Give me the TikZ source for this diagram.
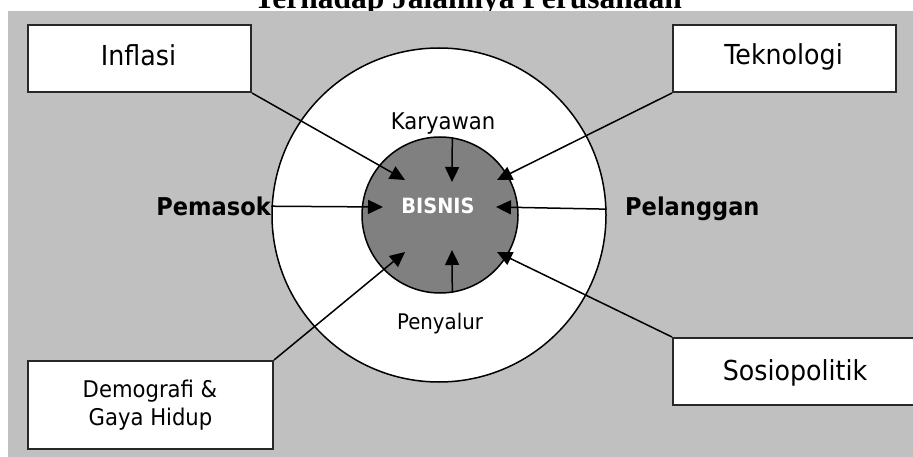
\documentclass[tikz,border=0pt]{standalone}
\usepackage{fontspec}
\setmainfont{DejaVu Sans}[FakeStretch=0.92]
\newfontfamily\titlefont{Liberation Serif}
\usetikzlibrary{arrows.meta}
\definecolor{bggray}{RGB}{192,192,192}
\definecolor{coregray}{RGB}{128,128,128}
\definecolor{edgegray}{RGB}{40,40,40}
\begin{document}
\begin{tikzpicture}[x=1pt,y=-1pt,
  box/.style={draw=edgegray, line width=2pt, fill=white, rectangle, inner sep=0pt},
  ring/.style={circle, draw=black, line width=1.5pt, inner sep=0pt},
  conn/.style={draw=black, line width=1.5pt, -{Triangle[length=15pt,width=14pt]}},
  lbl/.style={inner sep=0pt, anchor=base},
  boxtxt/.style={lbl, font=\fontsize{27.5}{33}\selectfont},
  midtxt/.style={lbl, font=\fontsize{23}{27}\selectfont},
  sidetxt/.style={inner sep=0pt, font=\bfseries\fontsize{24.5}{29}\selectfont}]
\useasboundingbox (0,0) rectangle (913,457);
\node[lbl, font=\titlefont\bfseries\fontsize{31.5}{36}\selectfont] (title) at (468,8.5) {Terhadap Jalannya Perusahaan};
\fill[bggray] (8,11) rectangle (920,460);
% circles
\node[ring, fill=white, minimum size=334pt] (outer) at (439,215) {};
\node[ring, fill=coregray, minimum size=156pt] (inner) at (440,215) {};
% boxes
\node[box, minimum width=223pt, minimum height=67pt] (infl) at (139.5,58.5) {};
\node[box, minimum width=223pt, minimum height=67pt] (tekno) at (784.5,58.5) {};
\node[box, minimum width=245pt, minimum height=88pt] (demo) at (150.5,405) {};
\node[box, minimum width=244pt, minimum height=67pt] (sosio) at (795,371.5) {};
% box texts
\node[boxtxt] (inflT) at (138.5,66) {Inflasi};
\node[boxtxt] (teknoT) at (783.5,65) {Teknologi};
\node[boxtxt] (sosioT) at (795,380) {Sosiopolitik};
\node[midtxt] (demoT1) at (150,397) {Demografi \&};
\node[midtxt] (demoT2) at (150.5,425) {Gaya Hidup};
% inner labels
\node[midtxt] (kary) at (443,130) {Karyawan};
\node[lbl, font=\fontsize{21.5}{26}\selectfont] (peny) at (440,329) {Penyalur};
\node[lbl, text=white, font=\bfseries\fontsize{21}{25}\selectfont] (bisnis) at (438,214) {BISNIS};
\node[sidetxt, anchor=base east] (pemasok) at (271,215) {Pemasok};
\node[sidetxt, anchor=base west] (pelanggan) at (625,215) {Pelanggan};
% arrow tips
\coordinate (tipInfl) at (405,180);
\coordinate (tipTekno) at (497,180);
\coordinate (tipDemo) at (405,252);
\coordinate (tipSosio) at (497,252);
\coordinate (tipPem) at (383,207);
\coordinate (tipPel) at (496,207);
\coordinate (tipKary) at (452,182);
\coordinate (tipPeny) at (452,250);
% connectors
\draw[conn] (infl.south east) -- (tipInfl);
\draw[conn] (tekno.south west) -- (tipTekno);
\draw[conn] (demo.north east) -- (tipDemo);
\draw[conn] (sosio.north west) -- (tipSosio);
\draw[conn] (outer.177.25) -- (tipPem);
\draw[conn] (outer.2.75) -- (tipPel);
\draw[conn] (inner.81.15) -- (tipKary);
\draw[conn] (inner.-81.15) -- (tipPeny);
\end{tikzpicture}
\end{document}
